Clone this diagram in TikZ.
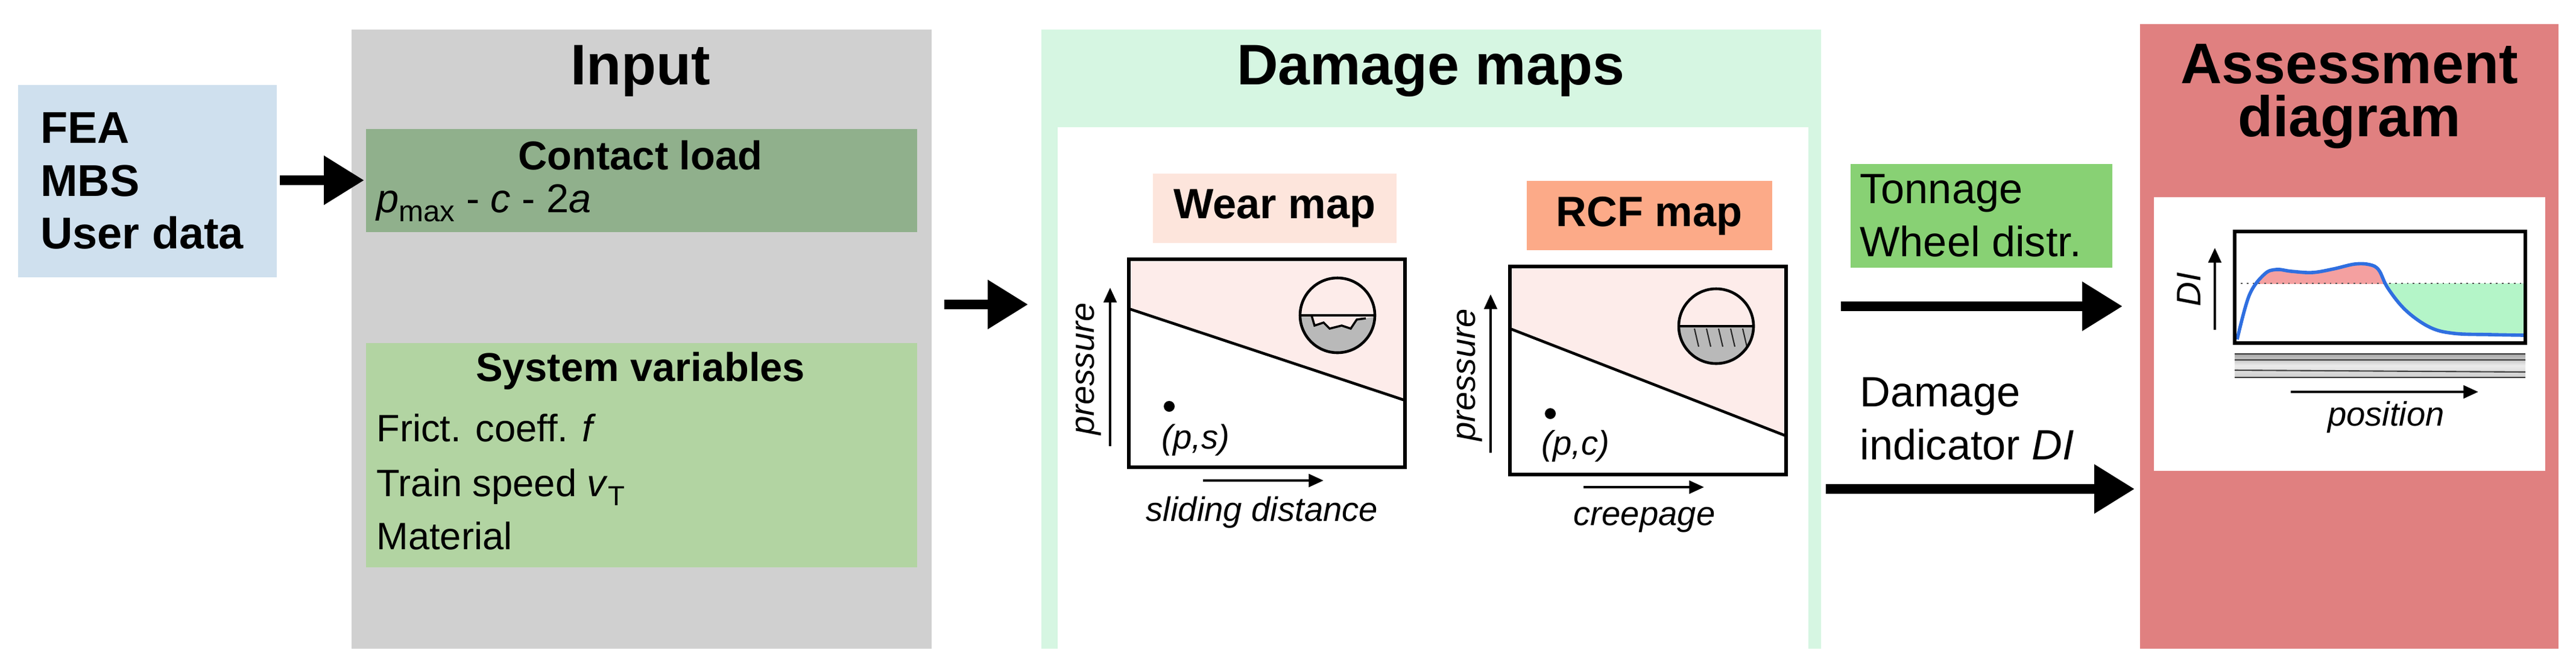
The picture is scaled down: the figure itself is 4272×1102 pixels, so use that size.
\documentclass[tikz,border=0pt]{standalone}
\usepackage{fontspec}
\setmainfont{Liberation Sans}
\usetikzlibrary{arrows.meta}
\definecolor{feab}{HTML}{CFE0EE}
\definecolor{inpg}{HTML}{D0D0D0}
\definecolor{contg}{HTML}{90B08C}
\definecolor{sysg}{HTML}{B2D4A2}
\definecolor{dmg}{HTML}{D6F6E2}
\definecolor{wearl}{HTML}{FDE5DC}
\definecolor{rcfl}{HTML}{FCAA88}
\definecolor{pinkf}{HTML}{FDECEA}
\definecolor{assr}{HTML}{E08080}
\definecolor{tonng}{HTML}{88D174}
\definecolor{curveb}{HTML}{2F6FE0}
\definecolor{pinkc}{HTML}{F4A0A0}
\definecolor{greenc}{HTML}{B4F5C8}
\tikzset{
 title/.style={font=\fontsize{27}{25}\selectfont\bfseries, align=center},
 body/.style={font=\fontsize{18}{25}\selectfont},
 bigarrow/.style={line width=4.5pt, -{Triangle[width=22pt,length=19pt]}},
 axarrow/.style={line width=1.3pt, -{Triangle[width=6pt,length=7pt]}},
 axlab/.style={font=\fontsize{16}{18}\selectfont\itshape},
 plotbox/.style={line width=1.5pt},
 icon/.style={line width=1.3pt},
}
\begin{document}
\begin{tikzpicture}[x=0.01cm,y=-0.01cm]
\useasboundingbox (0,0) rectangle (4272,1102);
% FEA box
\fill[feab] (30,141) rectangle (459,460);
\node[anchor=west, align=left, font=\fontsize{21}{25}\selectfont\bfseries] (fea) at (55,300) {FEA\\MBS\\User data};
\coordinate (feaE) at (464,299);
% Input
\fill[inpg] (583,49) rectangle (1545,1076);
\node[title] (inp) at (1062,118) {Input};
\fill[contg] (607,214) rectangle (1521,385);
\coordinate (contW) at (604,299);
\node[font=\fontsize{19}{22}\selectfont\bfseries] (cl) at (1062,258) {Contact load};
\node[anchor=base west, font=\fontsize{19}{22}\selectfont] (pm) at (612,352) {\textit{p}\raisebox{-0.45ex}{\fontsize{14}{14}\selectfont max} - \textit{c} - 2\textit{a}};
\fill[sysg] (607,569) rectangle (1521,941);
\node[font=\fontsize{19}{22}\selectfont\bfseries] (sv) at (1062,615) {System variables};
\node[anchor=base west, body] (f1) at (612,732) {Frict. coeff. \textit{f}};
\node[anchor=base west, body] (f2) at (612,823) {Train speed \textit{v}\raisebox{-0.45ex}{\fontsize{13}{13}\selectfont T}};
\node[anchor=base west, body] (f3) at (612,911) {Material};
\draw[bigarrow] (feaE) -- (contW);
% arrow to damage maps
\coordinate (a2s) at (1566,505);
\coordinate (a2e) at (1705,505);
\draw[bigarrow] (a2s) -- (a2e);
% Damage maps
\fill[dmg] (1727,49) rectangle (3020,1076);
\fill[white] (1754,211) rectangle (2999,1076);
\node[title] (dm) at (2373,118) {Damage maps};
% wear map
\fill[wearl] (1912,288) rectangle (2316,403);
\node[font=\fontsize{20}{22}\selectfont\bfseries] (wm) at (2114,346) {Wear map};
\fill[pinkf] (1872,430) -- (2330,430) -- (2330,664) -- (1872,512) -- cycle;
\draw[line width=1.3pt] (1872,512) -- (2330,664);
\draw[plotbox] (1872,430) rectangle (2330,775);
% wear icon
\begin{scope}
\clip (2218,523) circle (62);
\fill[gray!55] (2150,523) -- (2175,523) -- (2180,540) -- (2195,535) -- (2205,545) -- (2225,540) -- (2240,545) -- (2250,530) -- (2265,528) -- (2290,523) -- (2290,600) -- (2150,600) -- cycle;
\draw[line width=1pt] (2175,523) -- (2180,540) -- (2195,535) -- (2205,545) -- (2225,540) -- (2240,545) -- (2250,530) -- (2265,528);
\draw[line width=1.3pt] (2150,523) -- (2290,523);
\end{scope}
\draw[icon] (2218,523) circle (62);
\draw[axarrow] (1841,740) -- (1841,477);
\node[axlab, rotate=90] (pw) at (1805,612) {pressure};
\fill (1939,674) circle (9);
\node[axlab] (ps) at (1983,730) {(\textit{p},\textit{s})};
\draw[axarrow] (1995,797) -- (2195,797);
\node[axlab] (sd) at (2093,850) {sliding distance};
% RCF map
\fill[rcfl] (2532,300) rectangle (2939,415);
\node[font=\fontsize{20}{22}\selectfont\bfseries] (rm) at (2735,358) {RCF map};
\fill[pinkf] (2504,442) -- (2962,442) -- (2962,723) -- (2504,545) -- cycle;
\draw[line width=1.3pt] (2504,545) -- (2962,723);
\draw[plotbox] (2504,442) rectangle (2962,787);
\begin{scope}
\clip (2846,541) circle (62);
\fill[gray!55] (2780,541) rectangle (2910,610);
\foreach \xx in {2810,2830,2850,2870,2890}
  \draw[line width=0.6pt, gray!30!black] (\xx,545) -- (\xx+7,575);
\draw[line width=1.3pt] (2780,541) -- (2910,541);
\end{scope}
\draw[icon] (2846,541) circle (62);
\draw[axarrow] (2472,751) -- (2472,488);
\node[axlab, rotate=90] (pr) at (2437,622) {pressure};
\fill (2571,686) circle (9);
\node[axlab] (pc) at (2613,740) {(\textit{p},\textit{c})};
\draw[axarrow] (2626,808) -- (2826,808);
\node[axlab] (cr) at (2727,862) {creepage};
% Tonnage
\fill[tonng] (3069,272) rectangle (3503,444);
\node[anchor=west, align=left, font=\fontsize{20}{25}\selectfont] (ton) at (3072,358) {Tonnage\\Wheel distr.};
\coordinate (a3s) at (3053,508);
\coordinate (a3e) at (3520,508);
\draw[bigarrow] (a3s) -- (a3e);
\node[anchor=west, align=left, font=\fontsize{20}{25}\selectfont] (di) at (3072,695) {Damage\\indicator \textit{DI}};
\coordinate (a4s) at (3028,811);
\coordinate (a4e) at (3540,811);
\draw[bigarrow] (a4s) -- (a4e);
% Assessment
\fill[assr] (3549,40) rectangle (4243,1076);
\node[title] (ad) at (3896,160) {Assessment\\diagram};
\fill[white] (3572,327) rectangle (4221,781);
\def\curve{plot[smooth, tension=0.6] coordinates {(3710,563) (3730,490) (3755,455) (3775,447) (3800,450) (3835,452) (3870,446) (3905,438) (3930,439) (3945,448) (3960,478) (3990,515) (4030,543) (4070,553) (4130,555) (4186,556)}}
\begin{scope}
\clip (3706,384) rectangle (4188,470);
\fill[pinkc] \curve -- (4188,600) -- (3706,600) -- cycle;
\end{scope}
\begin{scope}
\clip (3950,470) rectangle (4188,569);
\fill[greenc] \curve -- (4188,300) -- (3706,300) -- cycle;
\end{scope}
\draw[line width=0.8pt, dotted, gray!70!black] (3706,470) -- (4188,470);
\draw[line width=1.6pt, curveb] \curve;
\draw[plotbox] (3706,384) rectangle (4188,569);
\draw[axarrow] (3673,547) -- (3673,411);
\node[axlab, rotate=90] (dil) at (3630,480) {DI};
% rail
\shade[top color=gray!70, bottom color=gray!40, middle color=gray!15] (3706,587) rectangle (4188,626);
\draw[line width=0.8pt, gray!40!black] (3706,587) -- (4188,587) (3706,626) -- (4188,626);
\draw[line width=0.6pt, gray!50!black] (3706,597) -- (4188,597) (3706,614) -- (4188,617);
\draw[axarrow] (3799,650) -- (4110,650);
\node[axlab] (pos) at (3957,692) {position};
\end{tikzpicture}
\end{document}
